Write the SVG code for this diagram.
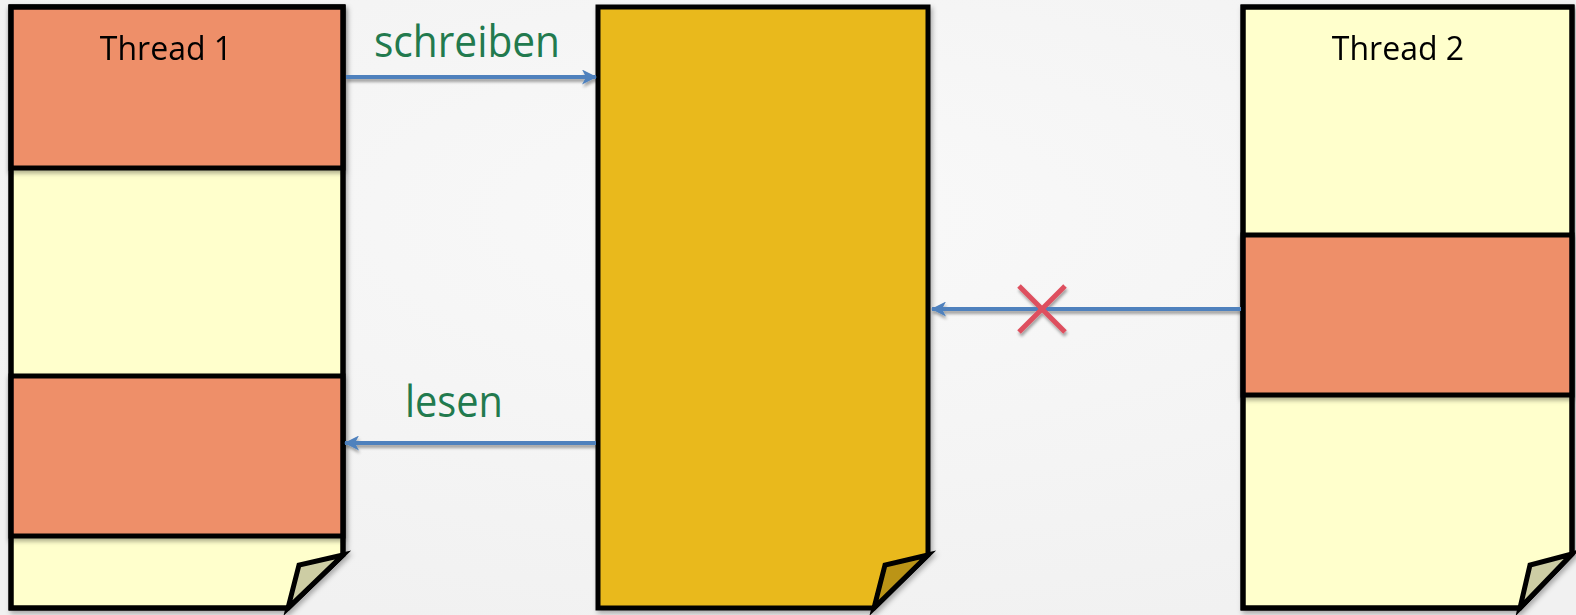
<svg xmlns="http://www.w3.org/2000/svg" width="1576" height="615" viewBox="0 0 1576 615">
  <defs>
    <radialGradient id="bg" cx="50%" cy="35%" r="70%">
      <stop offset="0" stop-color="#f9f9f9"/>
      <stop offset="1" stop-color="#f1f1f1"/>
    </radialGradient>
    <filter id="shadow" x="-10%" y="-10%" width="130%" height="130%">
      <feDropShadow dx="2" dy="3" stdDeviation="2.5" flood-color="#000" flood-opacity="0.3"/>
    </filter>
    <filter id="blockShadow" x="-5%" y="-10%" width="110%" height="130%">
      <feDropShadow dx="0" dy="3" stdDeviation="2" flood-color="#000" flood-opacity="0.3"/>
    </filter>
    <filter id="lineShadow" x="-10%" y="-200%" width="120%" height="500%">
      <feDropShadow dx="1" dy="3" stdDeviation="1.5" flood-color="#000" flood-opacity="0.35"/>
    </filter>
    <marker id="head" viewBox="0 0 15 15" refX="14" refY="7.5" markerWidth="15" markerHeight="15" markerUnits="userSpaceOnUse" orient="auto">
      <path d="M0,0 L15,7.5 L0,15 L4,7.5 Z" fill="#4f81bd"/>
    </marker>
    <style>
      .page { fill: #ffffcc; stroke: #000; stroke-width: 5; stroke-linejoin: miter; }
      .outline { fill: none; stroke: #000; stroke-width: 5; stroke-linejoin: miter; }
      .block { fill: #ee8f69; stroke: #000; stroke-width: 5; }
      .flap { fill: #cdcda4; stroke: #000; stroke-width: 5; stroke-linejoin: miter; }
      .title { font-family: "Open Sans", "Noto Sans", sans-serif; font-size: 32px; fill: #000; text-anchor: middle; }
      .label { font-family: "Open Sans", "Noto Sans", sans-serif; font-size: 44px; fill: #227a4e; text-anchor: middle; }
      .arrow { stroke: #4f81bd; stroke-width: 4; fill: none; }
      .cross { stroke: #de4f5e; stroke-width: 5; fill: none; }
    </style>
  </defs>

  <rect x="0" y="0" width="1576" height="615" fill="url(#bg)"/>

  <!-- Thread 1 page -->
  <g id="thread1" filter="url(#shadow)">
    <path class="page" d="M11,7 H343 V555 L288,608 H11 Z"/>
    <rect class="block" x="11" y="7" width="332" height="161" filter="url(#blockShadow)"/>
    <rect class="block" x="11" y="376" width="332" height="160" filter="url(#blockShadow)"/>
    <path class="outline" d="M11,7 H343 V555 L288,608 H11 Z"/>
    <path class="flap" d="M343,555 L299,565 L288,608 Z"/>
    <text class="title" x="166" y="60">Thread 1</text>
  </g>

  <!-- Shared memory page -->
  <g id="shared" filter="url(#shadow)">
    <path class="page" style="fill:#e9b91f" d="M598,7 H928 V555 L874,608 H598 Z"/>
    <path class="flap" style="fill:#bb9418" d="M928,555 L885,565 L874,608 Z"/>
  </g>

  <!-- Thread 2 page -->
  <g id="thread2" filter="url(#shadow)">
    <path class="page" d="M1243,7 H1572 V554 L1520,608 H1243 Z"/>
    <rect class="block" x="1243" y="235" width="329" height="160" filter="url(#blockShadow)"/>
    <path class="outline" d="M1243,7 H1572 V554 L1520,608 H1243 Z"/>
    <path class="flap" d="M1572,554 L1530,565 L1520,608 Z"/>
    <text class="title" x="1398" y="60">Thread 2</text>
  </g>

  <!-- Connectors -->
  <g id="connectors">
    <g filter="url(#lineShadow)">
      <line class="arrow" x1="346" y1="77" x2="596" y2="77" marker-end="url(#head)"/>
      <line class="arrow" x1="596" y1="443" x2="345" y2="443" marker-end="url(#head)"/>
      <line class="arrow" x1="1241" y1="309" x2="932" y2="309" marker-end="url(#head)"/>
      <path class="cross" d="M1019,286 L1065,332 M1065,286 L1019,332"/>
    </g>
    <text class="label" x="467" y="57" textLength="186" lengthAdjust="spacingAndGlyphs">schreiben</text>
    <text class="label" x="454" y="417" textLength="98" lengthAdjust="spacingAndGlyphs">lesen</text>
  </g>
</svg>
